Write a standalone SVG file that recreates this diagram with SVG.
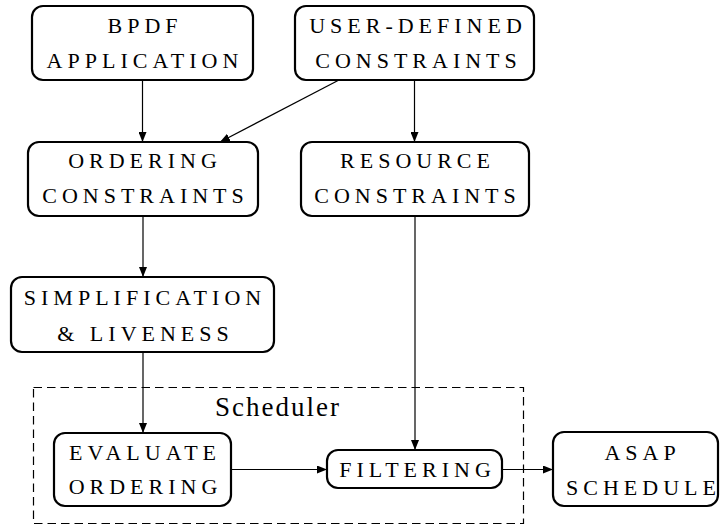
<svg xmlns="http://www.w3.org/2000/svg" width="720" height="526" viewBox="0 0 720 526">
<style>
.box{fill:#fff;stroke:#000;stroke-width:2.2}
.c{stroke:#000;stroke-width:1.2;fill:none}
.dash{fill:none;stroke:#000;stroke-width:1.2;stroke-dasharray:8.5 5}
</style>
<defs>
<marker id="ah" viewBox="0 0 10 8" refX="10" refY="4" markerWidth="10" markerHeight="8" markerUnits="userSpaceOnUse" orient="auto">
<path d="M0,0 L10,4 L0,8 Z" fill="#000"/>
</marker>
</defs>
<rect width="720" height="526" fill="#fff"/>
<g id="scheduler">
<rect class="dash" x="33.5" y="387.5" width="490" height="136"/>
<text x="215" y="416" font-family="Liberation Serif, DejaVu Serif, serif" font-size="27" fill="#000" letter-spacing="2">Scheduler</text>
</g>
<g id="connectors">
<line class="c" x1="142.5" y1="80" x2="142.5" y2="142" marker-end="url(#ah)"/>
<line class="c" x1="339" y1="80" x2="220" y2="142" marker-end="url(#ah)"/>
<line class="c" x1="414.5" y1="80" x2="414.5" y2="142" marker-end="url(#ah)"/>
<line class="c" x1="143" y1="216" x2="143" y2="277" marker-end="url(#ah)"/>
<line class="c" x1="143" y1="352" x2="143" y2="433" marker-end="url(#ah)"/>
<line class="c" x1="415" y1="216" x2="415" y2="450" marker-end="url(#ah)"/>
<line class="c" x1="231" y1="469.5" x2="327" y2="469.5" marker-end="url(#ah)"/>
<line class="c" x1="502" y1="469.5" x2="553" y2="469.5" marker-end="url(#ah)"/>
</g>
<g font-family="Liberation Serif, DejaVu Serif, serif" font-size="22" fill="#000" text-anchor="middle" letter-spacing="5">
<g id="bpdf">
<rect class="box" x="32" y="6" width="221" height="74" rx="11"/>
<text x="145" y="33">BPDF</text>
<text x="145" y="68">APPLICATION</text>
</g>
<g id="user">
<rect class="box" x="295" y="6" width="239" height="74" rx="11"/>
<text x="418" y="33">USER-DEFINED</text>
<text x="418.5" y="68">CONSTRAINTS</text>
</g>
<g id="ordering">
<rect class="box" x="28" y="142" width="230" height="74" rx="11"/>
<text x="145" y="168">ORDERING</text>
<text x="145.5" y="203">CONSTRAINTS</text>
</g>
<g id="resource">
<rect class="box" x="301" y="142" width="228" height="74" rx="11"/>
<text x="417.5" y="168">RESOURCE</text>
<text x="417.5" y="203">CONSTRAINTS</text>
</g>
<g id="simplification">
<rect class="box" x="11" y="277" width="263" height="75" rx="11"/>
<text x="145" y="305">SIMPLIFICATION</text>
<text x="145.5" y="341">&amp; LIVENESS</text>
</g>
<g id="evaluate">
<rect class="box" x="54" y="433" width="177" height="73" rx="11"/>
<text x="145" y="460">EVALUATE</text>
<text x="145.5" y="494">ORDERING</text>
</g>
<g id="filtering">
<rect class="box" x="327" y="450" width="175" height="38" rx="11"/>
<text x="417.5" y="477">FILTERING</text>
</g>
<g id="asap">
<rect class="box" x="553" y="432" width="165" height="74" rx="11"/>
<text x="642.5" y="460">ASAP</text>
<text x="643.5" y="495">SCHEDULE</text>
</g>
</g>
</svg>
